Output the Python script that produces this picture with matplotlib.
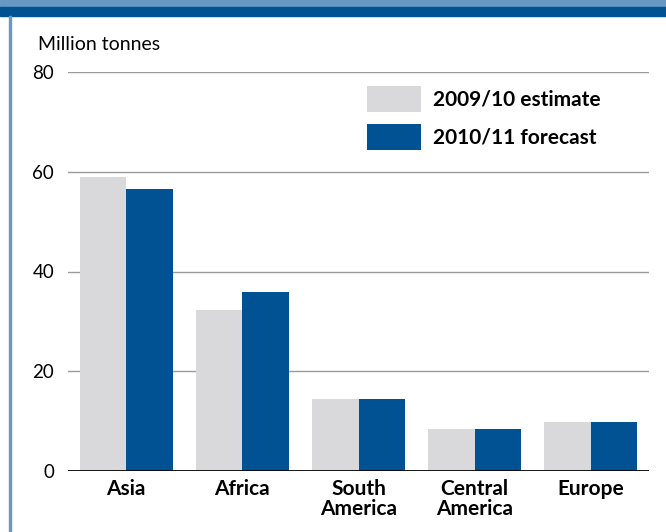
import matplotlib.pyplot as plt
import numpy as np
from matplotlib.patches import Rectangle

regions = ["Asia", "Africa", "South\nAmerica", "Central\nAmerica", "Europe"]
estimate_2009 = [59.0, 32.3, 14.4, 8.4, 9.8]
forecast_2010 = [56.5, 35.9, 14.4, 8.5, 9.8]
series_labels = ["2009/10 estimate", "2010/11 forecast"]
y_ticks = [0, 20, 40, 60, 80]

GREY = "#d9d9db"
BLUE = "#005293"
LIGHT_BLUE = "#6799c4"

plt.rcParams["font.family"] = ["Lato", "DejaVu Sans"]

fig = plt.figure(figsize=(6.66, 5.32), dpi=100)

# header band and left rule
fig.patches.append(Rectangle((0, 1 - 7 / 532), 1, 7 / 532, transform=fig.transFigure,
                             color=LIGHT_BLUE, zorder=0))
fig.patches.append(Rectangle((0, 1 - 16 / 532), 1, 9 / 532, transform=fig.transFigure,
                             color=BLUE, zorder=0))
fig.patches.append(Rectangle((9 / 666, 0), 2 / 666, 1 - 16 / 532, transform=fig.transFigure,
                             color=LIGHT_BLUE, zorder=0))

ax = fig.add_axes([68 / 666, 1 - 471 / 532, 581 / 666, 399 / 532])

x = np.arange(len(regions))
width = 0.4
ax.bar(x - width / 2, estimate_2009, width, color=GREY, label=series_labels[0], zorder=2)
ax.bar(x + width / 2, forecast_2010, width, color=BLUE, label=series_labels[1], zorder=2)

ax.set_xlim(-0.5, len(regions) - 0.5)
ax.set_ylim(0, 80)
ax.set_yticks(y_ticks)
ax.set_yticklabels([str(v) for v in y_ticks], fontsize=13.5)
ax.set_xticks(x)
ax.set_xticklabels(regions, fontsize=15, fontweight="bold", linespacing=0.98)
ax.tick_params(axis="y", length=0, pad=10)
ax.tick_params(axis="x", length=0, pad=6)

for v in y_ticks[1:]:
    ax.axhline(v, color="#9a9a9a", linewidth=1.0, zorder=1)
ax.axhline(0, color="black", linewidth=2.0, zorder=3)

for side in ["top", "right", "left", "bottom"]:
    ax.spines[side].set_visible(False)

fig.text(38 / 666, 1 - 45 / 532, "Million tonnes", fontsize=14, va="center", ha="left")

ax.legend(loc="upper left", bbox_to_anchor=(0.515, 0.965), frameon=False,
          prop={"weight": "bold", "size": 15}, handlelength=2.6, handleheight=1.55,
          handletextpad=0.55, labelspacing=0.55, borderpad=0, borderaxespad=0)

fig.savefig("out.png", dpi=100)
